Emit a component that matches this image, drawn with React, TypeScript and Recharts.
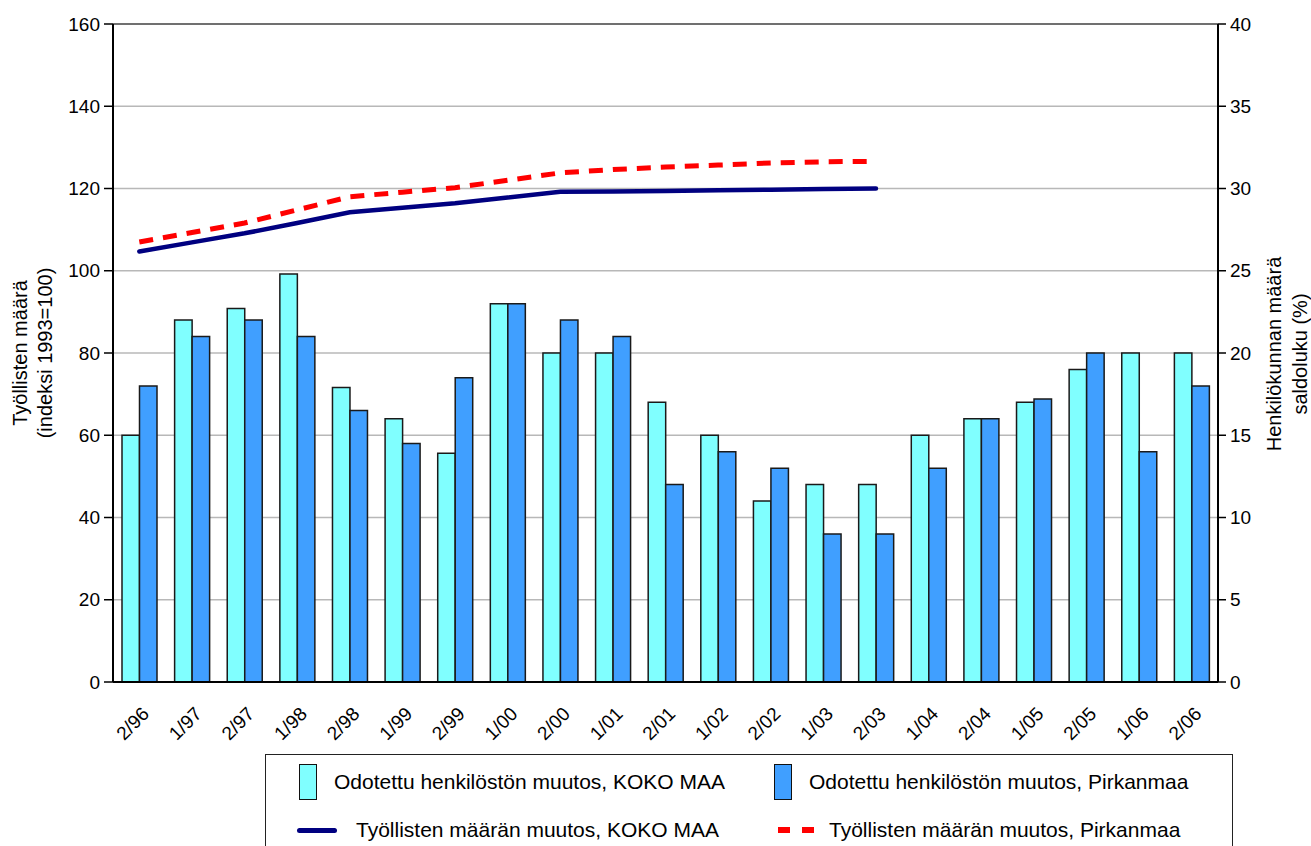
import React from "react"
import {
  ComposedChart, Bar, Line, XAxis, YAxis, CartesianGrid, ReferenceLine,
} from "recharts"

const categories = [
  "2/96", "1/97", "2/97", "1/98", "2/98", "1/99", "2/99", "1/00", "2/00", "1/01", "2/01",
  "1/02", "2/02", "1/03", "2/03", "1/04", "2/04", "1/05", "2/05", "1/06", "2/06",
]

// saldoluku (%), right axis
const henkilostoKokoMaa = [15, 22, 22.7, 24.8, 17.9, 16, 13.9, 23, 20, 20, 17, 15, 11, 12, 12, 15, 16, 17, 19, 20, 20]
const henkilostoPirkanmaa = [18, 21, 22, 21, 16.5, 14.5, 18.5, 23, 22, 21, 12, 14, 13, 9, 9, 13, 16, 17.2, 20, 14, 18]

// indeksi 1993=100, left axis (ends at 2/03)
const tyollisetKokoMaa = [104.7, 106.9, 109.1, 111.6, 114.2, 115.3, 116.4, 117.8, 119.2, 119.3, 119.4, 119.6, 119.7, 119.9, 120]
const tyollisetPirkanmaa = [107, 109.3, 111.6, 114.8, 118, 119.1, 120.2, 122, 123.8, 124.6, 125.2, 125.7, 126.2, 126.5, 126.6]

const leftTicks = [0, 20, 40, 60, 80, 100, 120, 140, 160]
const rightTicks = [0, 5, 10, 15, 20, 25, 30, 35, 40]

const data = categories.map((cat, i) => ({
  cat,
  kokoBar: henkilostoKokoMaa[i],
  pirkBar: henkilostoPirkanmaa[i],
  kokoLine: tyollisetKokoMaa[i],
  pirkLine: tyollisetPirkanmaa[i],
}))

const FONT = "'Liberation Sans', Arial, sans-serif"
const CYAN = "#80FFFF"
const BLUE = "#409FFF"
const NAVY = "#000080"
const RED = "#FF0000"

const XTick = ({ x, y, payload }: any) => {
  const ex = x + 11
  const ey = y + 25
  return (
    <text x={ex} y={ey} transform={`rotate(-45, ${ex}, ${ey})`} textAnchor="end"
      fontSize={19} fontFamily={FONT} fill="#000">
      {payload.value}
    </text>
  )
}

const LeftTitle = () => (
  <g fontFamily={FONT} fontSize={20} fill="#000">
    <text x={20} y={353} transform="rotate(-90, 20, 353)" textAnchor="middle" dominantBaseline="central">
      Työllisten määrä
    </text>
    <text x={45} y={353} transform="rotate(-90, 45, 353)" textAnchor="middle" dominantBaseline="central">
      (indeksi 1993=100)
    </text>
  </g>
)

const RightTitle = () => (
  <g fontFamily={FONT} fontSize={20} fill="#000">
    <text x={1274} y={354} transform="rotate(-90, 1274, 354)" textAnchor="middle" dominantBaseline="central">
      Henkilökunnan määrä
    </text>
    <text x={1300} y={354} transform="rotate(-90, 1300, 354)" textAnchor="middle" dominantBaseline="central">
      saldoluku (%)
    </text>
  </g>
)

const legendText: React.CSSProperties = {
  position: "absolute", fontFamily: FONT, fontSize: 21, color: "#000",
  whiteSpace: "nowrap", lineHeight: "21px",
}

function ChartLegend() {
  // page coordinates, box origin at (265, 754)
  const ox = 265, oy = 754
  return (
    <div style={{
      position: "absolute", left: ox, top: oy, width: 968, height: 120,
      border: "1px solid #222", boxSizing: "border-box", background: "#fff",
    }}>
      <div style={{ position: "absolute", left: 298 - ox, top: 763 - oy, width: 18, height: 36,
        background: CYAN, border: "1.5px solid #111", boxSizing: "border-box" }} />
      <div style={{ ...legendText, left: 333 - ox, top: 770 - oy }}>Odotettu henkilöstön muutos, KOKO MAA</div>
      <div style={{ position: "absolute", left: 773 - ox, top: 763 - oy, width: 18, height: 36,
        background: BLUE, border: "1.5px solid #111", boxSizing: "border-box" }} />
      <div style={{ ...legendText, left: 808 - ox, top: 770 - oy }}>Odotettu henkilöstön muutos, Pirkanmaa</div>

      <div style={{ position: "absolute", left: 296 - ox, top: 827 - oy, width: 40, height: 5,
        background: NAVY, borderRadius: 3 }} />
      <div style={{ ...legendText, left: 355 - ox, top: 818 - oy }}>Työllisten määrän muutos, KOKO MAA</div>
      <div style={{ position: "absolute", left: 777 - ox, top: 826 - oy, width: 12, height: 6, background: RED }} />
      <div style={{ position: "absolute", left: 801 - ox, top: 826 - oy, width: 12, height: 6, background: RED }} />
      <div style={{ ...legendText, left: 828 - ox, top: 818 - oy }}>Työllisten määrän muutos, Pirkanmaa</div>
    </div>
  )
}

export default function App() {
  return (
    <div style={{ position: "absolute", left: 0, top: 0, width: 1311, height: 846, overflow: "hidden", background: "#fff" }}>
      <ComposedChart width={1311} height={846} data={data}
        margin={{ top: 24, right: 0, bottom: 104, left: 0 }}
        barGap={0} barSize={17.5}>
        <CartesianGrid yAxisId="left" vertical={false} stroke="#b8b8b8" strokeWidth={1.5} />
        <XAxis dataKey="cat" interval={0} tickLine={false} height={60}
          axisLine={{ stroke: "#000", strokeWidth: 2 }} tick={<XTick />} />
        <YAxis yAxisId="left" domain={[0, 160]} ticks={leftTicks} width={113}
          allowDataOverflow
          axisLine={{ stroke: "#000", strokeWidth: 2 }} tickLine={{ stroke: "#000", strokeWidth: 1.5 }}
          tickSize={9} tickMargin={4}
          tick={{ fontSize: 19, fontFamily: FONT, fill: "#000" }} />
        <YAxis yAxisId="right" orientation="right" domain={[0, 40]} ticks={rightTicks} width={93}
          allowDataOverflow
          axisLine={{ stroke: "#000", strokeWidth: 2 }} tickLine={{ stroke: "#000", strokeWidth: 1.5 }}
          tickSize={8} tickMargin={4}
          tick={{ fontSize: 19, fontFamily: FONT, fill: "#000" }} />
        <ReferenceLine yAxisId="left" y={160} stroke="#707070" strokeWidth={2} />
        <Bar yAxisId="right" dataKey="kokoBar" fill={CYAN} stroke="#1a1a1a" strokeWidth={1.5} isAnimationActive={false} />
        <Bar yAxisId="right" dataKey="pirkBar" fill={BLUE} stroke="#1a1a1a" strokeWidth={1.5} isAnimationActive={false} />
        <Line yAxisId="left" dataKey="kokoLine" stroke={NAVY} strokeWidth={4.5} strokeLinecap="round"
          dot={false} activeDot={false} isAnimationActive={false} />
        <Line yAxisId="left" dataKey="pirkLine" stroke={RED} strokeWidth={5} strokeDasharray="14 10"
          dot={false} activeDot={false} isAnimationActive={false} />
        <LeftTitle />
        <RightTitle />
      </ComposedChart>
      <ChartLegend />
    </div>
  )
}
